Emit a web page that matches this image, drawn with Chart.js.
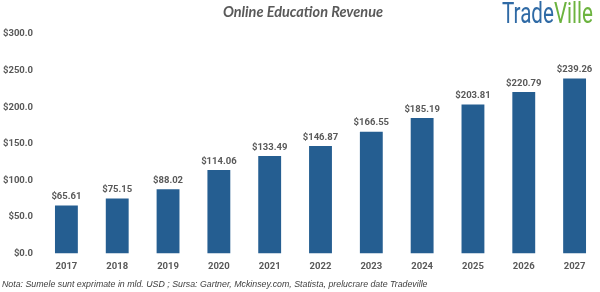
<!DOCTYPE html>
<html>
  <head>
    <script src="https://cdn.jsdelivr.net/npm/chart.js"></script>
    <style>
      body {
        margin: 0;
        padding: 0;
        background-color: #ffffff;
        font-family: "Liberation Sans", sans-serif;
      }

      .wrap {
        position: relative;
        width: 600px;
        height: 292px;
        overflow: hidden;
      }

      canvas {
        width: 600px !important;
        height: 292px !important;
      }

      .title {
        position: absolute;
        left: 0;
        width: 606px;
        top: 3px;
        text-align: center;
        font-family: Lato, sans-serif;
        font-weight: bold;
        font-style: italic;
        font-size: 14.5px;
        color: #595959;
      }

      .logo {
        position: absolute;
        left: 502px;
        top: -4px;
        font-family: Roboto, sans-serif;
        font-size: 29px;
        transform-origin: left top;
        white-space: nowrap;
      }

      .logo .a { color: #2f6aa5; }
      .logo .b { color: #6cb33f; }

      .note {
        position: absolute;
        left: 2px;
        top: 279px;
        font-family: "Liberation Sans", sans-serif;
        font-style: italic;
        font-size: 8.8px;
        color: #404040;
        white-space: nowrap;
      }
    </style>
  </head>
  <body>
    <div class="wrap">
      <canvas id="myChart" width="600" height="292"></canvas>
      <div class="title">Online Education Revenue</div>
      <div class="logo" id="logo"><span class="a">Trade</span><span class="b">Ville</span></div>
      <div class="note">Nota: Sumele sunt exprimate in mld. USD ; Sursa: Gartner, Mckinsey.com, Statista, prelucrare date Tradeville</div>
    </div>

    <script>
      const anii = ['2017', '2018', '2019', '2020', '2021', '2022', '2023', '2024', '2025', '2026', '2027'];
      const venituri = [65.61, 75.15, 88.02, 114.06, 133.49, 146.87, 166.55, 185.19, 203.81, 220.79, 239.26];
      const etichete = ['$65.61', '$75.15', '$88.02', '$114.06', '$133.49', '$146.87', '$166.55', '$185.19', '$203.81', '$220.79', '$239.26'];
      const axaY = [0, 50, 100, 150, 200, 250, 300];

      const gri = '#595959';
      const fontEticheta = { family: 'Roboto, sans-serif', size: 9.5, weight: 'bold' };

      // logo-ul e ingust, il strangem pe orizontala
      const logo = document.getElementById('logo');
      logo.style.transform = 'scaleX(' + (91 / logo.offsetWidth) + ')';

      // valorile deasupra barelor
      const valoriPlugin = {
        id: 'valori',
        afterDatasetsDraw(chart) {
          const ctx = chart.ctx;
          const meta = chart.getDatasetMeta(0);
          ctx.save();
          ctx.fillStyle = gri;
          ctx.font = 'bold 9.5px Roboto, sans-serif';
          ctx.textAlign = 'center';
          ctx.textBaseline = 'bottom';
          meta.data.forEach((bar, i) => {
            ctx.fillText(etichete[i], bar.x, bar.y - 4);
          });
          ctx.restore();
        }
      };

      function deseneaza() {
        const ctx = document.getElementById('myChart').getContext('2d');
        new Chart(ctx, {
          type: 'bar',
          data: {
            labels: anii,
            datasets: [{
              label: 'Venituri',
              data: venituri,
              backgroundColor: '#255e91',
              barPercentage: 0.9,
              categoryPercentage: 0.5
            }]
          },
          options: {
            responsive: false,
            maintainAspectRatio: false,
            animation: false,
            layout: {
              padding: { left: 1, right: 0, top: 34, bottom: 13 }
            },
            plugins: {
              legend: { display: false },
              tooltip: { enabled: false }
            },
            scales: {
              x: {
                grid: { display: false, drawTicks: false },
                border: { display: false },
                ticks: { color: gri, font: fontEticheta, padding: 7, maxRotation: 0 }
              },
              y: {
                min: 0,
                max: 300,
                afterFit(scale) { scale.width = 40; },
                afterBuildTicks(scale) { scale.ticks = axaY.map(v => ({ value: v })); },
                grid: { display: false, drawTicks: false },
                border: { display: false },
                ticks: {
                  color: gri,
                  font: fontEticheta,
                  padding: 8,
                  callback: v => '$' + Number(v).toFixed(1)
                }
              }
            }
          },
          plugins: [valoriPlugin]
        });
      }

      document.fonts.load('bold 10px Roboto').then(deseneaza, deseneaza);
    </script>
  </body>
</html>
